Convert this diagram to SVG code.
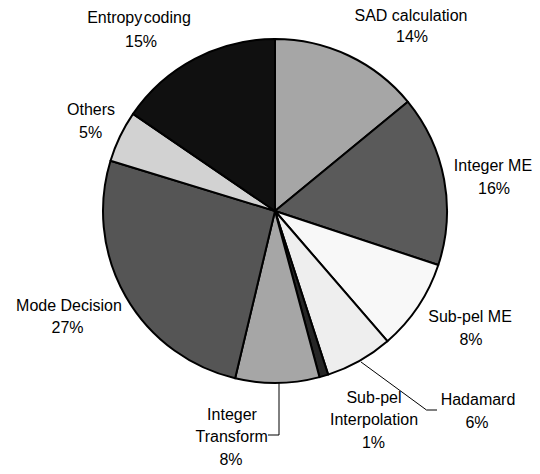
<svg xmlns="http://www.w3.org/2000/svg" width="540" height="474" viewBox="0 0 540 474">
  <style>
    .slice { stroke: #000; stroke-width: 2; stroke-linejoin: round; }
    .lbl { font-family: "Liberation Sans", Arial, sans-serif; font-size: 16px; fill: #000; text-anchor: middle; }
    .leader { fill: none; stroke: #000; stroke-width: 1; }
  </style>
  <rect width="540" height="474" fill="#fff"/>

  <!-- pie centre (275,211), radius 172, slices clockwise from 12 o'clock -->
  <g id="sad">
    <path class="slice" fill="#a6a6a6" d="M275,211 L275,39 A172,172 0 0 1 407.91,101.82 Z"/>
    <text class="lbl" x="411" y="20.5">SAD calculation</text>
    <text class="lbl" x="412" y="42">14%</text>
  </g>
  <g id="integer-me">
    <path class="slice" fill="#5a5a5a" d="M275,211 L407.91,101.82 A172,172 0 0 1 438.3,265.01 Z"/>
    <text class="lbl" x="493" y="170.5">Integer ME</text>
    <text class="lbl" x="494" y="194">16%</text>
  </g>
  <g id="subpel-me">
    <path class="slice" fill="#f8f8f8" d="M275,211 L438.3,265.01 A172,172 0 0 1 387.39,341.2 Z"/>
    <text class="lbl" x="470" y="322">Sub-pel ME</text>
    <text class="lbl" x="471" y="344.5">8%</text>
  </g>
  <g id="hadamard">
    <path class="slice" fill="#eeeeee" d="M275,211 L387.39,341.2 A172,172 0 0 1 328.15,374.58 Z"/>
    <text class="lbl" x="478" y="405">Hadamard</text>
    <text class="lbl" x="477" y="428">6%</text>
  </g>
  <g id="subpel-interpolation">
    <path class="slice" fill="#262626" d="M275,211 L328.15,374.58 A172,172 0 0 1 319.52,377.14 Z"/>
    <text class="lbl" x="374" y="402.7">Sub-pel</text>
    <text class="lbl" x="374" y="425">Interpolation</text>
    <text class="lbl" x="373.5" y="448">1%</text>
  </g>
  <g id="integer-transform">
    <path class="slice" fill="#a6a6a6" d="M275,211 L319.52,377.14 A172,172 0 0 1 235.14,378.32 Z"/>
    <text class="lbl" x="232" y="419.5">Integer</text>
    <text class="lbl" x="231.7" y="442.3">Transform</text>
    <text class="lbl" x="231" y="465">8%</text>
  </g>
  <g id="mode-decision">
    <path class="slice" fill="#555555" d="M275,211 L235.14,378.32 A172,172 0 0 1 110.52,160.71 Z"/>
    <text class="lbl" x="69" y="310.5">Mode Decision</text>
    <text class="lbl" x="67.5" y="333">27%</text>
  </g>
  <g id="others">
    <path class="slice" fill="#d2d2d2" d="M275,211 L110.52,160.71 A172,172 0 0 1 133.04,113.83 Z"/>
    <text class="lbl" x="91" y="114.5">Others</text>
    <text class="lbl" x="90.6" y="137.5">5%</text>
  </g>
  <g id="entropy-coding">
    <path class="slice" fill="#101010" d="M275,211 L133.04,113.83 A172,172 0 0 1 275,39 Z"/>
    <text class="lbl" x="139" y="22.5" word-spacing="-3">Entropy coding</text>
    <text class="lbl" x="141" y="46.5">15%</text>
  </g>

  <!-- leader lines from outside labels to their slices -->
  <g id="connectors">
    <polyline class="leader" points="268,435 279,435 279,383"/>
    <polyline class="leader" points="361,362 426.5,410 437,410"/>
  </g>
</svg>
